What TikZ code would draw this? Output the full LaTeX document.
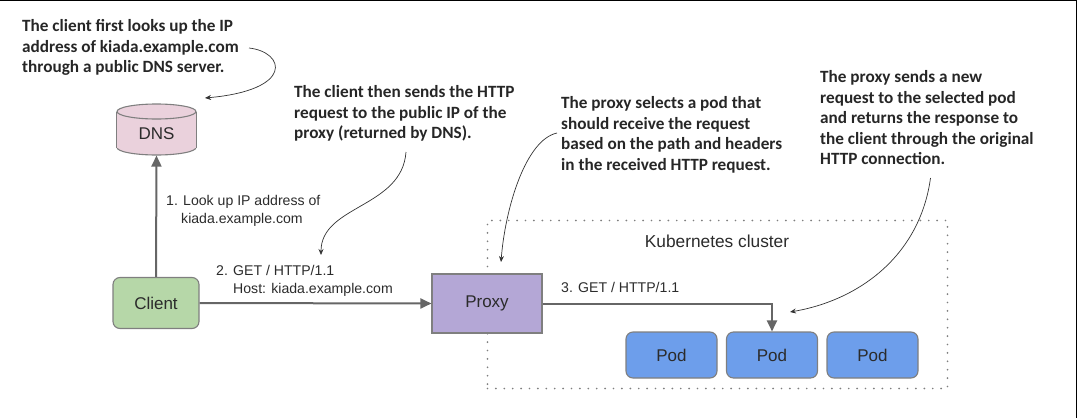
\documentclass[tikz,border=0pt]{standalone}
\usepackage{fontspec}
\setmainfont{Liberation Sans}
\newfontfamily\notefont{Carlito}
\usetikzlibrary{shapes.geometric}
\usetikzlibrary{arrows.meta}

\definecolor{linegray}{HTML}{666666}
\definecolor{edgegray}{HTML}{7F7F7F}
\definecolor{textgray}{HTML}{2B2B2B}
\definecolor{dnspink}{HTML}{EAD1DC}
\definecolor{clientgreen}{HTML}{B6D7A8}
\definecolor{proxypurple}{HTML}{B4A7D6}
\definecolor{podblue}{HTML}{6D9EEB}

\begin{document}
\begin{tikzpicture}[x=1pt, y=-1pt,
every text node part/.style={align=left},
box/.style={rectangle, inner sep=0pt, draw=edgegray, line width=1.1pt, text=textgray, font=\fontsize{17}{20}\selectfont},
roundbox/.style={box, rounded corners=7pt},
podbox/.style={roundbox, fill=podblue, minimum width=91pt, minimum height=46pt},
dnsend/.style={ellipse, inner sep=0pt, draw=edgegray, fill=dnspink, line width=1.1pt, minimum width=79pt, minimum height=15pt},
str/.style={inner sep=0pt, anchor=north west, text=textgray, font=\fontsize{14.1}{17.7}\selectfont},
note/.style={inner sep=0pt, anchor=north west, text=black!85, font=\notefont\bfseries\fontsize{17.2}{20.5}\selectfont},
arrow/.style={-{Triangle[length=11pt, width=10pt]}, linegray, line width=2pt},
curved/.style={-{Stealth[length=6pt, width=5pt]}, black!80, line width=0.7pt}]

\useasboundingbox (0, 0) rectangle (1077, 418);
\draw[black, line width=1.5pt] (0, 0.5) -- (1077, 0.5);
\draw[black, line width=1.5pt] (1076.5, 0) -- (1076.5, 418);

% cluster frame goes first, the proxy sits on top of it
\node[rectangle, draw=edgegray, line width=1.9pt, line cap=round, dash pattern=on 0pt off 8.4pt, minimum width=460pt, minimum height=168pt, inner sep=0pt] (cluster) at (717.5, 304.5) {};
\node[inner sep=0pt, text=textgray, font=\fontsize{17.3}{20}\selectfont] (clusterlabel) at (717, 241) {Kubernetes cluster};

% DNS drum: lower end, body, then upper end
\node[dnsend] (dnsbottom) at (156.5, 147.5) {};
\path[fill=dnspink] (dnsbottom.west) rectangle (156.5 + 39.5, 111.5);
\node[dnsend] (dnstop) at (156.5, 111.5) {};
\draw[edgegray, line width=1.1pt] (dnstop.west) -- (dnsbottom.west);
\draw[edgegray, line width=1.1pt] (dnstop.east) -- (dnsbottom.east);
\node[inner sep=0pt, text=textgray, font=\fontsize{17}{20}\selectfont] (dns) at (156.5, 134) {DNS};

\node[roundbox, fill=clientgreen, minimum width=86pt, minimum height=51pt] (client) at (156, 303) {Client};
\node[box, fill=proxypurple, minimum width=110pt, minimum height=59pt] (proxy) at (487, 303.5) {Proxy};

\node[podbox] (pod1) at (671.5, 355) {Pod};
\node[podbox] (pod2) at (772, 355) {Pod};
\node[podbox] (pod3) at (872.5, 355) {Pod};

\draw (client.north) edge[arrow] (dnsbottom.south);
\draw (client.east) edge[arrow] (proxy.west);
\draw[arrow] (proxy.east) -- (pod2.north |- proxy.east) -- (pod2.north);

\node[str] (lookup) at (166, 195) {1. Look up IP address of\\\hspace{15pt}kiada.example.com};
\node[str] (gethost) at (216, 265) {2. GET / HTTP/1.1\\\hspace{17pt}Host: kiada.example.com};
\node[str] (getpod) at (561, 282) {3. GET / HTTP/1.1};

\node[note] (note1) at (22, 19.3) {The client first looks up the IP\\address of kiada.example.com\\through a public DNS server.};
\node[note] (note2) at (294, 85.3) {The client then sends the HTTP\\request to the public IP of the\\proxy (returned by DNS).};
\node[note] (note3) at (561, 96.5) {The proxy selects a pod that\\should receive the request\\based on the path and headers\\in the received HTTP request.};
\node[note] (note4) at (820, 70.5) {The proxy sends a new\\request to the selected pod\\and returns the response to\\the client through the original\\HTTP connection.};

\coordinate (note1out) at (249, 48);
\coordinate (note1in) at (205, 98);
\coordinate (note2out) at (406, 152);
\coordinate (note2in) at (321, 255);
\coordinate (note3out) at (557, 133);
\coordinate (note3in) at (501, 262);
\coordinate (note4out) at (930.5, 178);
\coordinate (note4in) at (790, 312);

\draw[curved] (note1out) .. controls (285, 52) and (295, 90) .. (note1in);
\draw[curved] (note2out) .. controls (402, 208) and (321, 205) .. (note2in);
\draw[curved] (note3out) .. controls (525, 140) and (505, 210) .. (note3in);
\draw[curved] (note4out) .. controls (920, 255) and (860, 300) .. (note4in);

\end{tikzpicture}
\end{document}
